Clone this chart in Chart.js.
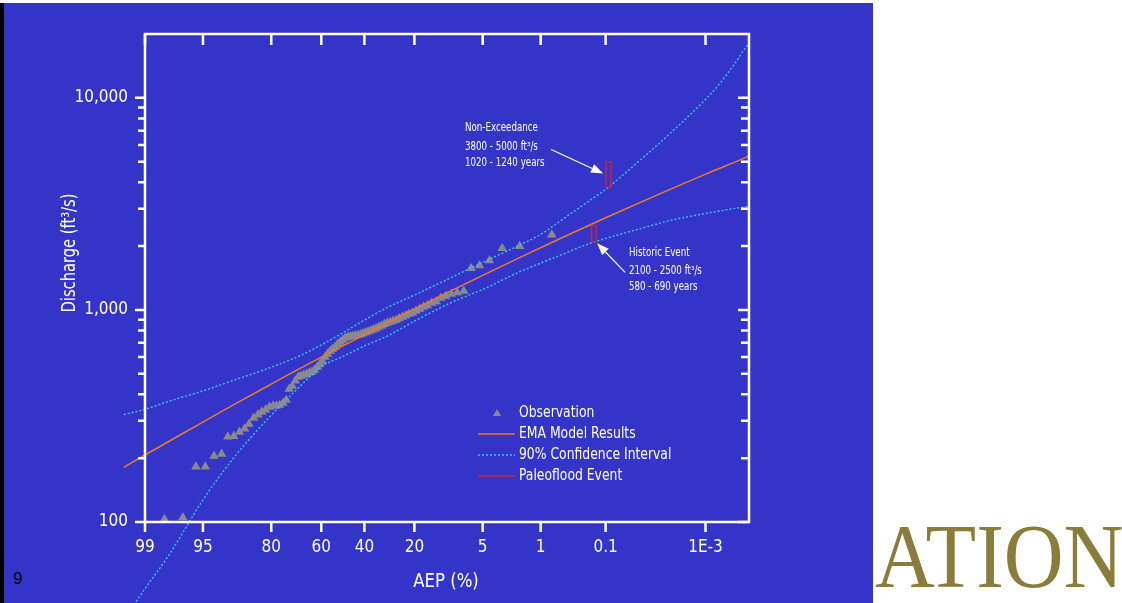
<!DOCTYPE html>
<html>
<head>
<meta charset="utf-8">
<script src="https://cdn.jsdelivr.net/npm/chart.js@4.4.1/dist/chart.umd.min.js"></script>
<style>
  html, body { margin: 0; padding: 0; background: #fff; }
  body { width: 1122px; height: 603px; position: relative; overflow: hidden; }
  #slide { position: absolute; left: 4px; top: 3px; width: 869px; height: 600px; background: #3434c8; }
  #edge { position: absolute; left: 0; top: 3px; width: 4px; height: 600px; background: #000; }
  #wrap { position: absolute; left: 0; top: 0; width: 1122px; height: 603px; }
  #num { position: absolute; left: 13px; top: 569px; font: 17px 'Liberation Sans', Arial, sans-serif; color: #000; }
  #brand { position: absolute; left: 875px; top: 510px; font: 92px 'Liberation Serif', 'DejaVu Serif', serif; color: #8a7c3a; line-height: 1; transform-origin: 0 0; transform: scaleX(0.9); white-space: nowrap; }
</style>
</head>
<body>
<div id="slide"></div>
<div id="edge"></div>
<div id="wrap"><canvas id="floodChart" width="1122" height="603"></canvas></div>
<div id="num">9</div>
<div id="brand">ATION</div>
<script>
// Annual exceedance probability (%) and discharge (ft3/s)
const obsAep = [0.70, 1.88, 3.05, 4.23, 5.40, 6.58, 7.75, 8.93, 10.1, 11.3, 12.45, 13.6, 14.8, 16.0,
  17.15, 18.3, 19.5, 20.7, 21.9, 23.0, 24.2, 25.4, 26.5, 27.7, 28.9, 30.1, 31.2, 32.4, 33.6, 34.8,
  35.95, 37.1, 38.3, 39.5, 40.65, 41.8, 43.0, 44.2, 45.4, 46.5, 47.7, 48.9, 50.05, 51.2, 52.4, 53.6,
  54.75, 55.9, 57.1, 58.3, 59.5, 60.6, 61.8, 63.0, 64.2, 65.3, 66.5, 67.7, 68.9, 70.0, 71.2, 72.4,
  73.6, 74.7, 75.9, 77.1, 78.3, 79.4, 80.6, 81.8, 83.0, 84.1, 85.3, 86.5, 87.6, 88.8, 90.0, 91.2,
  92.3, 93.5, 94.7, 95.8, 97.0, 98.2];
const obsQ = [2260, 1995, 1955, 1710, 1620, 1573, 1229, 1209, 1190, 1164, 1139, 1097, 1079, 1050,
  1033, 1011, 989, 968, 957, 942, 927, 912, 897, 887, 878, 868, 855, 841, 831, 818,
  809, 800, 792, 783, 775, 766, 762, 758, 754, 750, 746, 738, 722, 706, 691, 669,
  655, 641, 620, 600, 574, 556, 538, 521, 510, 505, 499, 494, 488, 483, 463, 438,
  424, 376, 364, 356, 353, 353, 349, 338, 330, 320, 309, 290, 275, 266, 254, 252,
  209, 205, 182, 182, 105, 103];

const emaAep = [99.5, 99, 95, 90, 80, 70, 50, 30, 20, 10, 5, 2, 1, 0.5, 0.2, 0.1, 0.01, 0.001, 0.0001, 0.00009];
const emaQ = [181, 207, 296, 358, 447, 524, 677, 870, 1009, 1236, 1456, 1746, 1965, 2188, 2488, 2719, 3517, 4368, 5270, 5320];

const ciHiAep = [99.5, 99, 98, 95, 90, 80, 70, 60, 50, 40, 30, 20, 10, 5, 2, 1, 0.5, 0.2, 0.1, 0.05, 0.02, 0.01, 0.005, 0.002, 0.001, 0.0005, 0.0002, 0.0001, 0.00009];
const ciHiQ = [321, 340, 370, 415, 466, 537, 603, 684, 780, 895, 1028, 1175, 1426, 1675, 2000, 2270, 2660, 3228, 3700, 4315, 5270, 6095, 7050, 8510, 9840, 11480, 14550, 17580, 17800];

const ciLoAep = [99.3, 99, 98, 95, 90, 80, 70, 60, 50, 40, 30, 20, 10, 5, 2, 1, 0.5, 0.2, 0.1, 0.05, 0.02, 0.01, 0.005, 0.002, 0.001, 0.0001, 0.00009];
const ciLoQ = [40.7, 48.5, 69, 127, 201, 319, 428, 540, 603, 676, 754, 885, 1086, 1248, 1497, 1663, 1824, 2042, 2173, 2291, 2443, 2559, 2667, 2773, 2851, 3069, 3075];

// Paleoflood events: return period range (years) and discharge range
const nonExcYears = [1020, 1240];
const nonExcQ = [3800, 5000];
const histYears = [580, 690];
const histQ = [2100, 2500];

const aepTicks = [99, 95, 80, 60, 40, 20, 5, 1, 0.1, 0.001];
const aepTickLabels = ['99', '95', '80', '60', '40', '20', '5', '1', '0.1', '1E-3'];
const qMajor = [100, 1000, 10000];
const qMinor = [200, 300, 400, 500, 600, 700, 800, 900, 2000, 3000, 4000, 5000, 6000, 7000, 8000, 9000];

const NARROW = "'Liberation Sans Narrow', 'DejaVu Sans Condensed', sans-serif";
const ORANGE = '#ec7a2e';
const CYAN = '#36c6f4';
const RED = '#c8223e';
const GREY = '#8a8a8e';

// inverse standard normal (Acklam)
function normInv(p) {
  const a = [-3.969683028665376e1, 2.209460984245205e2, -2.759285104469687e2, 1.383577518672690e2, -3.066479806614716e1, 2.506628277459239];
  const b = [-5.447609879822406e1, 1.615858368580409e2, -1.556989798598866e2, 6.680131188771972e1, -1.328068155288572e1];
  const c = [-7.784894002430293e-3, -3.223964580411365e-1, -2.400758277161838, -2.549732539343734, 4.374664141464968, 2.938163982698783];
  const d = [7.784695709041462e-3, 3.224671290700398e-1, 2.445134137142996, 3.754408661907416];
  const pl = 0.02425;
  let q, r;
  if (p < pl) {
    q = Math.sqrt(-2 * Math.log(p));
    return (((((c[0]*q+c[1])*q+c[2])*q+c[3])*q+c[4])*q+c[5]) / ((((d[0]*q+d[1])*q+d[2])*q+d[3])*q+1);
  }
  if (p <= 1 - pl) {
    q = p - 0.5; r = q * q;
    return (((((a[0]*r+a[1])*r+a[2])*r+a[3])*r+a[4])*r+a[5])*q / (((((b[0]*r+b[1])*r+b[2])*r+b[3])*r+b[4])*r+1);
  }
  q = Math.sqrt(-2 * Math.log(1 - p));
  return -(((((c[0]*q+c[1])*q+c[2])*q+c[3])*q+c[4])*q+c[5]) / ((((d[0]*q+d[1])*q+d[2])*q+d[3])*q+1);
}
// AEP in percent -> standard normal variate of non-exceedance
const zOf = (aep) => normInv(1 - aep / 100);

const toPts = (aeps, qs) => aeps.map((a, i) => ({ x: zOf(a), y: qs[i] }));
const boxPts = (years, qs) => {
  const a1 = 100 / years[0], a2 = 100 / years[1];
  return [{ x: zOf(a1), y: qs[0] }, { x: zOf(a1), y: qs[1] }, { x: zOf(a2), y: qs[1] }, { x: zOf(a2), y: qs[0] }, { x: zOf(a1), y: qs[0] }];
};

// text squeezed horizontally, the slide font is narrower than what we have
function narrowText(ctx, txt, x, y, size, sx, align) {
  ctx.save();
  ctx.font = `${size}px ${NARROW}`;
  ctx.textBaseline = 'middle';
  ctx.textAlign = align || 'left';
  ctx.translate(x, y);
  ctx.scale(sx, 1);
  ctx.fillText(txt, 0, 0);
  ctx.restore();
}

const overlay = {
  id: 'overlay',
  afterDatasetsDraw(chart) {
    const { ctx, chartArea: ca, scales: { x, y } } = chart;
    ctx.save();
    ctx.strokeStyle = '#fff';
    ctx.lineWidth = 2.5;
    ctx.lineCap = 'butt';
    // frame
    ctx.beginPath();
    ctx.moveTo(ca.left, ca.top); ctx.lineTo(ca.right, ca.top);
    ctx.lineTo(ca.right, ca.bottom); ctx.lineTo(ca.left, ca.bottom); ctx.closePath();
    ctx.stroke();
    // x ticks (bottom out, top in)
    aepTicks.forEach((a) => {
      const px = x.getPixelForValue(zOf(a));
      ctx.beginPath();
      ctx.moveTo(px, ca.bottom); ctx.lineTo(px, ca.bottom + 10);
      ctx.moveTo(px, ca.top); ctx.lineTo(px, ca.top + 11);
      ctx.stroke();
    });
    // y ticks (left out, right in)
    qMajor.forEach((v) => {
      const py = y.getPixelForValue(v);
      ctx.beginPath();
      ctx.moveTo(ca.left - 10, py); ctx.lineTo(ca.left, py);
      ctx.moveTo(ca.right - 11, py); ctx.lineTo(ca.right, py);
      ctx.stroke();
    });
    qMinor.forEach((v) => {
      const py = y.getPixelForValue(v);
      ctx.beginPath();
      ctx.moveTo(ca.left - 7, py); ctx.lineTo(ca.left, py);
      ctx.moveTo(ca.right - 8, py); ctx.lineTo(ca.right, py);
      ctx.stroke();
    });

    // axis titles
    ctx.fillStyle = '#fff';
    narrowText(ctx, 'AEP (%)', 446, 582, 20, 0.92, 'center');
    ctx.save();
    ctx.translate(70, 253);
    ctx.rotate(-Math.PI / 2);
    narrowText(ctx, 'Discharge (ft\u00b3/s)', 0, 0, 19, 0.86, 'center');
    ctx.restore();

    // annotations with arrows
    const arrow = (x0, y0, x1, y1) => {
      const ang = Math.atan2(y1 - y0, x1 - x0);
      const L = 12, W = 4.5;
      ctx.strokeStyle = '#fff';
      ctx.lineWidth = 1.2;
      ctx.beginPath();
      ctx.moveTo(x0, y0);
      ctx.lineTo(x1 - Math.cos(ang) * L, y1 - Math.sin(ang) * L);
      ctx.stroke();
      ctx.beginPath();
      ctx.moveTo(x1, y1);
      ctx.lineTo(x1 - Math.cos(ang) * L - Math.sin(ang) * W, y1 - Math.sin(ang) * L + Math.cos(ang) * W);
      ctx.lineTo(x1 - Math.cos(ang) * L + Math.sin(ang) * W, y1 - Math.sin(ang) * L - Math.cos(ang) * W);
      ctx.closePath();
      ctx.fillStyle = '#fff';
      ctx.fill();
    };
    const neX = x.getPixelForValue(zOf(100 / nonExcYears[0])) - 3;
    const neY = y.getPixelForValue(4400);
    arrow(neX - 52, neY - 24, neX, neY);
    const hX = x.getPixelForValue(zOf(100 / histYears[1])) + 1;
    const hY = y.getPixelForValue(2060);
    arrow(hX + 28, hY + 29, hX, hY);

    ctx.fillStyle = '#fff';
    const ann = [
      ['Non-Exceedance', 465, 128], ['3800 - 5000 ft\u00b3/s', 465, 147], ['1020 - 1240 years', 465, 163],
      ['Historic Event', 629, 253], ['2100 - 2500 ft\u00b3/s', 629, 271], ['580 - 690 years', 629, 287],
    ];
    ann.forEach(([t, ax, ay]) => narrowText(ctx, t, ax, ay, 11.5, 0.84));

    // legend
    const lx0 = 478, lx1 = 515, tx = 519;
    ctx.fillStyle = GREY;
    ctx.beginPath();
    ctx.moveTo(497, 409); ctx.lineTo(501, 416); ctx.lineTo(493, 416); ctx.closePath();
    ctx.fill();
    const legendLines = [
      { y: 434, color: ORANGE, dash: [], label: 'EMA Model Results' },
      { y: 455, color: CYAN, dash: [2, 2], label: '90% Confidence Interval' },
      { y: 476, color: RED, dash: [], label: 'Paleoflood Event' },
    ];
    ctx.fillStyle = '#fff';
    narrowText(ctx, 'Observation', tx, 413, 16, 0.86);
    legendLines.forEach((l) => {
      ctx.strokeStyle = l.color;
      ctx.lineWidth = 1.5;
      ctx.setLineDash(l.dash);
      ctx.beginPath();
      ctx.moveTo(lx0, l.y); ctx.lineTo(lx1, l.y);
      ctx.stroke();
      ctx.setLineDash([]);
      ctx.fillStyle = '#fff';
      narrowText(ctx, l.label, tx, l.y, 16, 0.86);
    });
    ctx.restore();
  },
};

new Chart(document.getElementById('floodChart'), {
  type: 'scatter',
  data: {
    datasets: [
      { label: 'Paleoflood Event', data: boxPts(nonExcYears, nonExcQ), showLine: true, borderColor: RED, borderWidth: 1.5, pointRadius: 0, clip: false, order: 0 },
      { label: 'Paleoflood Event', data: boxPts(histYears, histQ), showLine: true, borderColor: RED, borderWidth: 1.5, pointRadius: 0, clip: false, order: 0 },
      { label: 'EMA Model Results', data: toPts(emaAep, emaQ), showLine: true, borderColor: ORANGE, borderWidth: 1.5, pointRadius: 0, cubicInterpolationMode: 'monotone', clip: false, order: 1 },
      { label: '90% Confidence Interval', data: toPts(ciHiAep, ciHiQ), showLine: true, borderColor: CYAN, borderWidth: 1.4, borderDash: [2, 2], pointRadius: 0, cubicInterpolationMode: 'monotone', clip: false, order: 1 },
      { label: '90% Confidence Interval', data: toPts(ciLoAep, ciLoQ), showLine: true, borderColor: CYAN, borderWidth: 1.4, borderDash: [2, 2], pointRadius: 0, cubicInterpolationMode: 'monotone', clip: false, order: 1 },
      { label: 'Observation', data: toPts(obsAep, obsQ), pointStyle: 'triangle', pointRadius: 5.5, backgroundColor: GREY, borderColor: GREY, borderWidth: 0, order: 3 },
    ],
  },
  options: {
    responsive: false,
    animation: false,
    layout: { padding: { left: 0, top: 34, right: 373, bottom: 0 } },
    plugins: { legend: { display: false }, tooltip: { enabled: false } },
    scales: {
      x: {
        type: 'linear',
        min: zOf(99),
        max: zOf(0.0000894),
        grid: { display: false },
        border: { display: false },
        afterBuildTicks: (s) => { s.ticks = aepTicks.map((a) => ({ value: zOf(a) })); },
        afterFit: (s) => { s.height = 81; },
        ticks: { color: '#fff', font: { family: NARROW, size: 17 }, padding: 7, autoSkip: false, maxRotation: 0, callback: (v, i) => aepTickLabels[i] },
      },
      y: {
        type: 'logarithmic',
        min: 100,
        max: 20000,
        grid: { display: false },
        border: { display: false },
        afterBuildTicks: (s) => { s.ticks = qMajor.map((v) => ({ value: v })); },
        afterFit: (s) => { s.width = 145; },
        ticks: { color: '#fff', font: { family: NARROW, size: 17 }, padding: 9, callback: (v) => Number(v).toLocaleString('en-US') },
      },
    },
  },
  plugins: [overlay],
});
</script>
</body>
</html>
